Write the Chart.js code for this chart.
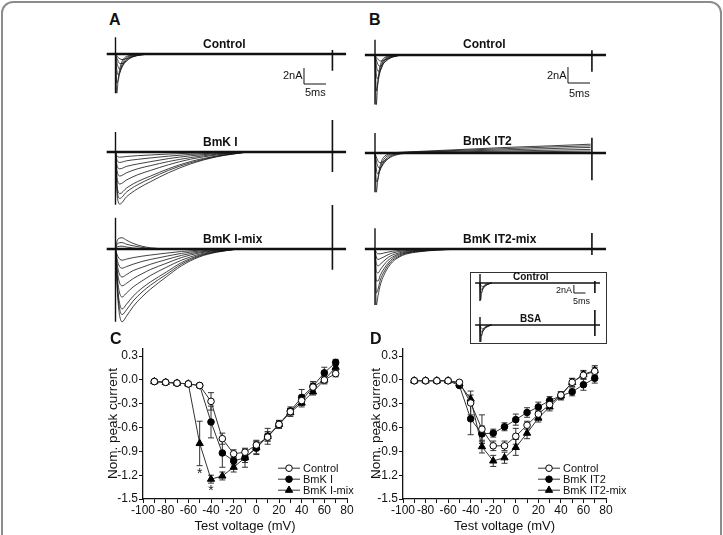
<!DOCTYPE html>
<html><head><meta charset="utf-8">
<script src="https://cdn.jsdelivr.net/npm/chart.js@4.4.1/dist/chart.umd.min.js"></script>
<style>
html,body{margin:0;padding:0;background:#fff;}
body{width:723px;height:535px;position:relative;overflow:hidden;font-family:"Liberation Sans",Arial,sans-serif;}
.frame{position:absolute;left:1px;top:1px;width:721px;height:580px;border:2px solid #8c8c8c;border-radius:12px;box-sizing:border-box;}
canvas{position:absolute;}
.t{position:absolute;white-space:nowrap;color:#111;line-height:1;transform:translateY(-50%);}
.lbl{font-weight:bold;font-size:12px;}
.letter{font-weight:bold;font-size:16px;}
.sb{font-size:11px;}
.sbs{font-size:9px;}
.ilbl{font-weight:bold;font-size:10px;}
.inset{position:absolute;left:470px;top:272px;width:137px;height:72px;border:1.5px solid #333;box-sizing:border-box;background:#fff;}
</style></head>
<body>
<div class="frame"></div>

<script>
// ================= DATA: I-V curves (panels C and D) =================
const voltages = [-90,-80,-70,-60,-50,-40,-30,-20,-10,0,10,20,30,40,50,60,70];
const xTicks = [-100,-90,-80,-70,-60,-50,-40,-30,-20,-10,0,10,20,30,40,50,60,70,80];
const yTicks = [-1.5,-1.2,-0.9,-0.6,-0.3,0.0,0.3];

const labelsC = ['Control','BmK I','BmK I-mix'];
const cControl    = [-0.02,-0.03,-0.04,-0.05,-0.07,-0.27,-0.74,-0.93,-0.91,-0.82,-0.72,-0.56,-0.40,-0.26,-0.09,0.00,0.08];
const cControlErr = [0.01,0.01,0.01,0.01,0.02,0.11,0.07,0.05,0.04,0.06,0.05,0.04,0.04,0.05,0.05,0.04,0.04];
const cBmkI       = [-0.02,-0.03,-0.04,-0.05,-0.07,-0.53,-0.92,-1.02,-0.98,-0.86,-0.71,-0.56,-0.39,-0.22,-0.08,0.09,0.22];
const cBmkIErr    = [0.01,0.01,0.01,0.01,0.02,0.20,0.18,0.05,0.06,0.08,0.06,0.05,0.05,0.10,0.06,0.07,0.04];
const cBmkImix    = [-0.02,-0.03,-0.04,-0.05,-0.80,-1.25,-1.21,-1.10,-0.98,-0.85,-0.71,-0.56,-0.41,-0.29,-0.15,0.00,0.16];
const cBmkImixErr = [0.01,0.01,0.01,0.01,0.28,0.05,0.05,0.06,0.12,0.08,0.10,0.05,0.05,0.05,0.04,0.05,0.04];
const cAsterisks  = [{x:-50,y:-1.15},{x:-40,y:-1.36}];

const labelsD = ['Control','BmK IT2','BmK IT2-mix'];
const dControl    = [-0.01,-0.01,-0.01,-0.01,-0.03,-0.29,-0.62,-0.83,-0.83,-0.71,-0.57,-0.43,-0.31,-0.19,-0.03,0.06,0.11];
const dControlErr = [0.01,0.01,0.01,0.01,0.02,0.15,0.18,0.06,0.06,0.10,0.05,0.05,0.05,0.04,0.05,0.05,0.05];
const dIT2        = [-0.01,-0.01,-0.01,-0.01,-0.07,-0.49,-0.68,-0.67,-0.59,-0.50,-0.41,-0.34,-0.26,-0.20,-0.15,-0.06,0.02];
const dIT2Err     = [0.01,0.01,0.01,0.01,0.02,0.20,0.10,0.05,0.05,0.07,0.06,0.06,0.05,0.05,0.05,0.07,0.06];
const dIT2mix     = [-0.01,-0.01,-0.01,-0.01,-0.05,-0.24,-0.84,-1.02,-0.98,-0.85,-0.67,-0.48,-0.34,-0.20,-0.03,0.07,0.12];
const dIT2mixErr  = [0.01,0.01,0.01,0.01,0.02,0.05,0.08,0.07,0.07,0.10,0.07,0.05,0.05,0.05,0.05,0.05,0.06];

// ================= DATA: current traces (time in ms, current in nA) =================
const pulseEnd = 49.3;
const baseSpanA = [-2, 52.4];
const baseSpanB = [-2.3, 52.5];

const tACtl = [0, 0.3, 0.6, 1, 1.5, 2, 3, 4, 6, 8];
const aCtl1 = [0, -4.9, -3.2, -1.8, -0.9, -0.5, -0.2, -0.08, 0];
const aCtl2 = [0, -3.6, -3.3, -2.3, -1.3, -0.75, -0.3, -0.12, 0];
const aCtl3 = [0, -2.0, -2.6, -2.3, -1.6, -1.0, -0.45, -0.2, -0.05, 0];
const aCtl4 = [0, -1.0, -1.6, -1.9, -1.6, -1.2, -0.6, -0.3, -0.08, 0];
const aCtl5 = [0, -0.5, -0.9, -1.2, -1.2, -1.05, -0.65, -0.35, -0.1, 0];
const aCtl6 = [0, -0.2, -0.45, -0.6, -0.7, -0.65, -0.5, -0.3, -0.1, 0];
const aCtlArt = [2.1, -4.9, 0.5, -2.1];

const tAI = [0, 0.4, 1, 2.5, 5, 8, 12, 17, 23, 30];
const aI1 = [0, -5.5, -6.5, -5.6, -4.6, -3.7, -2.6, -1.5, -0.6, 0];
const aI2 = [0, -4.9, -5.8, -5.0, -4.1, -3.3, -2.3, -1.35, -0.55, 0];
const aI3 = [0, -4.4, -5.2, -4.5, -3.7, -3.0, -2.1, -1.2, -0.5, 0];
const aI4 = [0, -3.4, -4.0, -3.5, -2.85, -2.3, -1.6, -0.9, -0.37, 0];
const aI5 = [0, -2.5, -3.0, -2.6, -2.1, -1.7, -1.2, -0.7, -0.28, 0];
const aI6 = [0, -1.8, -2.1, -1.8, -1.5, -1.2, -0.83, -0.48, -0.2, 0];
const aI7 = [0, -1.1, -1.3, -1.1, -0.92, -0.74, -0.52, -0.3, -0.12, 0];
const aI8 = [0, -0.55, -0.65, -0.56, -0.46, -0.37, -0.26, -0.15, -0.06, 0];
const aIArt = [2.5, -6.6, 4.0, -2.5];

const tAM = [0, 0.5, 1.5, 2.5, 4, 6, 8, 11.5, 15, 19, 23, 28];
const aM1 = [0, -6.0, -9.1, -8.4, -7.2, -6.0, -5.0, -3.5, -2.1, -1.0, -0.4, 0];
const aM2 = [0, -5.4, -8.2, -7.6, -6.5, -5.4, -4.5, -3.2, -1.9, -0.9, -0.36, 0];
const aM3 = [0, -4.9, -7.5, -6.9, -5.9, -4.9, -4.1, -2.9, -1.7, -0.8, -0.33, 0];
const aM4 = [0, -4.0, -6.0, -5.5, -4.75, -4.0, -3.3, -2.3, -1.4, -0.66, -0.26, 0];
const aM5 = [0, -3.1, -4.6, -4.3, -3.7, -3.1, -2.55, -1.8, -1.07, -0.5, -0.2, 0];
const aM6 = [0, -2.3, -3.5, -3.2, -2.7, -2.3, -1.9, -1.33, -0.8, -0.38, -0.15, 0];
const aM7 = [0, -1.6, -2.4, -2.2, -1.9, -1.56, -1.3, -0.91, -0.55, -0.26, -0.1, 0];
const aM8 = [0, -0.9, -1.4, -1.26, -1.08, -0.9, -0.75, -0.52, -0.31, -0.15, 0];
const aMo1 = [0, 1.2, 1.4, 1.1, 0.7, 0.35, 0.15, 0];
const aMo2 = [0, 0.7, 0.8, 0.6, 0.4, 0.2, 0.05, 0];
const aMo3 = [0, 0.3, 0.35, 0.25, 0.12, 0.05, 0];
const aMArt = [3.9, -9.1, 5.5, -2.6];

const tBCtl = [0, 0.3, 0.6, 1, 1.5, 2, 3, 4, 6];
const bCtl1 = [0, -6.2, -3.5, -1.8, -0.8, -0.4, -0.15, -0.05, 0];
const bCtl2 = [0, -4.5, -3.8, -2.3, -1.2, -0.6, -0.25, -0.1, 0];
const bCtl3 = [0, -2.4, -3.0, -2.4, -1.5, -0.8, -0.35, -0.15, 0];
const bCtl4 = [0, -1.2, -2.0, -2.0, -1.6, -1.0, -0.45, -0.2, 0];
const bCtl5 = [0, -0.6, -1.1, -1.4, -1.3, -1.0, -0.55, -0.25, 0];
const bCtl6 = [0, -0.3, -0.5, -0.7, -0.75, -0.65, -0.45, -0.25, 0];
const bCtlArt = [1.9, -6.2, 0.6, -2.1];

const tBI = [0, 0.3, 0.6, 1, 1.5, 2, 3, 4, 6, 10, 20, 30, 40, 49];
const bI1 = [0, -4.9, -3.5, -2.0, -1.0, -0.5, -0.15, 0, 0.1, 0.2, 0.45, 0.7, 0.9, 1.1];
const bI2 = [0, -3.6, -3.4, -2.4, -1.4, -0.8, -0.3, -0.1, 0.05, 0.15, 0.35, 0.55, 0.75, 0.9];
const bI3 = [0, -2.0, -2.6, -2.3, -1.7, -1.1, -0.5, -0.2, 0, 0.1, 0.25, 0.4, 0.55, 0.7];
const bI4 = [0, -1.0, -1.6, -1.9, -1.7, -1.3, -0.7, -0.3, -0.05, 0.05, 0.15, 0.25, 0.35, 0.45];
const bI5 = [0, -0.5, -0.9, -1.2, -1.2, -1.05, -0.7, -0.4, -0.1, 0, 0.05, 0.12, 0.18, 0.25];
const bIArt = [2.5, -4.9, 1.9, -3.4];

const tBM = [0, 0.3, 0.7, 1.2, 2, 3, 4, 5.5, 7, 10, 14, 20];
const bM1 = [0, -7.0, -5.8, -4.5, -3.3, -2.3, -1.6, -1.0, -0.65, -0.35, -0.15, 0];
const bM2 = [0, -5.5, -5.0, -3.9, -2.9, -2.0, -1.4, -0.9, -0.55, -0.3, -0.12, 0];
const bM3 = [0, -4.0, -4.0, -3.3, -2.5, -1.75, -1.2, -0.75, -0.48, -0.25, -0.1, 0];
const bM4 = [0, -2.8, -3.0, -2.6, -2.0, -1.4, -1.0, -0.62, -0.4, -0.2, -0.08, 0];
const bM5 = [0, -1.8, -2.1, -1.9, -1.5, -1.05, -0.75, -0.48, -0.3, -0.15, -0.06, 0];
const bM6 = [0, -1.0, -1.3, -1.2, -1.0, -0.7, -0.5, -0.32, -0.2, -0.1, 0];
const bM7 = [0, -0.4, -0.6, -0.6, -0.5, -0.38, -0.28, -0.18, -0.1, -0.05, 0];
const bMArt = [2.6, -7.0, 2.0, -0.75];

const tIn = [0, 0.3, 0.7, 1.2, 2, 3, 5];
const inC1 = [0, -4.2, -2.5, -1.2, -0.5, -0.2, 0];
const inC2 = [0, -2.5, -2.4, -1.6, -0.8, -0.35, 0];
const inC3 = [0, -1.2, -1.6, -1.4, -0.9, -0.45, 0];
const inC4 = [0, -0.5, -0.8, -0.9, -0.7, -0.4, 0];
const inCArt = [2.5, -4.5, 0.5, -2.5];
const inB1 = [0, -4.5, -2.7, -1.3, -0.55, -0.2, 0];
const inB2 = [0, -2.8, -2.6, -1.7, -0.85, -0.35, 0];
const inB3 = [0, -1.3, -1.7, -1.5, -1.0, -0.5, 0];
const inB4 = [0, -0.5, -0.85, -0.95, -0.75, -0.4, 0];
const inBArt = [2.0, -4.5, 3.75, -2.75];
const inBaseSpan = [-2.1, 51.5];

// ================= rendering =================
const FONT = '"Liberation Sans", Arial, sans-serif';
Chart.defaults.font.family = FONT;
Chart.defaults.color = '#111';

function addText(txt, cls, left, cy) {
  const d = document.createElement('div');
  d.className = 't ' + cls;
  d.textContent = txt;
  d.style.left = left + 'px';
  d.style.top = cy + 'px';
  document.body.appendChild(d);
}
function addCanvas(left, top, w, h) {
  const c = document.createElement('canvas');
  c.width = w; c.height = h;
  c.style.left = left + 'px'; c.style.top = top + 'px';
  c.style.width = w + 'px'; c.style.height = h + 'px';
  document.body.appendChild(c);
  return c;
}

// ---- plugins ----
const scaleBarPlugin = {
  id: 'scaleBar',
  afterDraw(chart, args, opts) {
    if (!opts || opts.t === undefined) return;
    const xs = chart.scales.x, ys = chart.scales.y, ctx = chart.ctx;
    const x0 = xs.getPixelForValue(opts.t), x1 = xs.getPixelForValue(opts.t + 5);
    const y0 = ys.getPixelForValue(opts.top), y1 = ys.getPixelForValue(opts.top - 2);
    ctx.save();
    ctx.strokeStyle = '#111'; ctx.lineWidth = 1;
    ctx.beginPath();
    ctx.moveTo(x0, y0); ctx.lineTo(x0, y1); ctx.lineTo(x1, y1);
    ctx.stroke();
    ctx.restore();
  }
};

const errorBarPlugin = {
  id: 'errBars',
  beforeDatasetsDraw(chart) {
    const ctx = chart.ctx, ys = chart.scales.y;
    ctx.save();
    ctx.strokeStyle = '#333'; ctx.lineWidth = 1;
    chart.data.datasets.forEach((ds, i) => {
      const meta = chart.getDatasetMeta(i);
      ds.err.forEach((e, j) => {
        if (e < 0.015) return;
        const pt = meta.data[j];
        const v = ds.data[j].y;
        const yt = ys.getPixelForValue(v + e), yb = ys.getPixelForValue(v - e);
        ctx.beginPath();
        ctx.moveTo(pt.x, yt); ctx.lineTo(pt.x, yb);
        ctx.moveTo(pt.x - 3, yt); ctx.lineTo(pt.x + 3, yt);
        ctx.moveTo(pt.x - 3, yb); ctx.lineTo(pt.x + 3, yb);
        ctx.stroke();
      });
    });
    ctx.restore();
  },
  afterDraw(chart, args, opts) {
    const ctx = chart.ctx, ca = chart.chartArea;
    // legend
    const x0 = ca.left + 135, y0 = ca.top + 120;
    ctx.save();
    chart.data.datasets.forEach((ds, i) => {
      const y = y0 + i * 11;
      ctx.strokeStyle = '#333'; ctx.lineWidth = 1;
      ctx.beginPath(); ctx.moveTo(x0, y); ctx.lineTo(x0 + 22, y); ctx.stroke();
      ctx.fillStyle = ds.pointBackgroundColor; ctx.strokeStyle = '#000';
      Chart.helpers.drawPoint(ctx, {pointStyle: ds.pointStyle, radius: ds.pointRadius, rotation: 0, borderWidth: 1}, x0 + 11, y);
      ctx.fillStyle = '#111';
      ctx.font = '11px ' + FONT;
      ctx.textBaseline = 'middle'; ctx.textAlign = 'left';
      ctx.fillText(ds.label, x0 + 25, y + 0.5);
    });
    // asterisks
    if (opts && opts.stars) {
      ctx.font = '14px ' + FONT; ctx.textAlign = 'center'; ctx.textBaseline = 'middle';
      ctx.fillStyle = '#222';
      opts.stars.forEach(s => {
        ctx.fillText('*', chart.scales.x.getPixelForValue(s.x), chart.scales.y.getPixelForValue(s.y) + 3);
      });
    }
    ctx.restore();
  }
};

// ---- I-V chart ----
function ivChart(left, yAxisW, areaRight, series, errs, labels, stars) {
  const w = 275;
  const c = addCanvas(left, 340, w, 195);
  const styles = [
    {ps: 'circle', bg: '#ffffff', r: 3.3},
    {ps: 'circle', bg: '#000000', r: 3.3},
    {ps: 'triangle', bg: '#000000', r: 4.2}
  ];
  const datasets = series.map((s, i) => ({
    label: labels[i],
    data: voltages.map((v, j) => ({x: v, y: s[j]})),
    err: errs[i],
    borderColor: '#333', borderWidth: 1,
    pointStyle: styles[i].ps, pointRadius: styles[i].r,
    pointBackgroundColor: styles[i].bg, pointBorderColor: '#000', pointBorderWidth: 1,
    tension: 0, fill: false
  }));
  new Chart(c, {
    type: 'line',
    data: {datasets},
    options: {
      responsive: false, animation: false, devicePixelRatio: 1, events: [],
      layout: {padding: {top: 7, right: left + w - areaRight, left: 0, bottom: 0}},
      plugins: {legend: {display: false}, tooltip: {enabled: false}, errBars: {stars}},
      scales: {
        x: {
          type: 'linear', min: -100, max: 80,
          afterBuildTicks: ax => { ax.ticks = xTicks.map(v => ({value: v})); },
          afterFit: s => { s.height = 36; },
          grid: {drawOnChartArea: false, drawTicks: true, tickLength: 4, color: '#111', lineWidth: 1},
          border: {display: true, color: '#111', width: 1.3},
          ticks: {callback: v => (v % 20 === 0 ? String(v) : ''), font: {size: 12}, color: '#111', padding: 0, maxRotation: 0, autoSkip: false},
          title: {display: true, text: 'Test voltage (mV)', font: {size: 13}, color: '#111', padding: {top: 0, bottom: 1}}
        },
        y: {
          type: 'linear', min: -1.5, max: 0.4,
          afterBuildTicks: ax => { ax.ticks = yTicks.map(v => ({value: v})); },
          afterFit: s => { s.width = yAxisW; },
          grid: {drawOnChartArea: false, drawTicks: true, tickLength: 4, color: '#111', lineWidth: 1},
          border: {display: true, color: '#111', width: 1.3},
          ticks: {callback: v => v.toFixed(1), font: {size: 12}, color: '#111', padding: 1},
          title: {display: true, text: 'Nom. peak current', font: {size: 13.5}, color: '#111', padding: {top: 0, bottom: 0}}
        }
      }
    },
    plugins: [errorBarPlugin]
  });
}

// ---- trace chart ----
function traceChart(cfg) {
  const c = addCanvas(cfg.left, cfg.top, cfg.w, cfg.h);
  const xmin = (cfg.left - cfg.t0px) / cfg.pxMs, xmax = (cfg.left + cfg.w - cfg.t0px) / cfg.pxMs;
  const ymax = (cfg.base - cfg.top) / cfg.pxNA, ymin = -(cfg.top + cfg.h - cfg.base) / cfg.pxNA;
  const ds = [];
  ds.push({data: [{x: cfg.span[0], y: 0}, {x: cfg.span[1], y: 0}], borderColor: '#111', borderWidth: cfg.baseW || 2.4, pointRadius: 0, tension: 0});
  cfg.traces.forEach(tr => {
    ds.push({data: tr.v.map((v, k) => ({x: tr.t[k], y: v})), borderColor: '#111', borderWidth: cfg.lw || 0.8,
      pointRadius: 0, cubicInterpolationMode: 'monotone', fill: false});
  });
  const a = cfg.art;
  ds.push({data: [{x: 0, y: a[0]}, {x: 0, y: a[1]}], borderColor: '#111', borderWidth: 1.4, pointRadius: 0, tension: 0});
  ds.push({data: [{x: pulseEnd, y: a[2]}, {x: pulseEnd, y: a[3]}], borderColor: '#111', borderWidth: 1.6, pointRadius: 0, tension: 0});
  new Chart(c, {
    type: 'line',
    data: {datasets: ds},
    options: {
      responsive: false, animation: false, devicePixelRatio: 1, events: [],
      layout: {padding: 0},
      plugins: {legend: {display: false}, tooltip: {enabled: false}, scaleBar: cfg.sb || {}},
      scales: {
        x: {type: 'linear', display: false, min: xmin, max: xmax},
        y: {type: 'linear', display: false, min: ymin, max: ymax}
      }
    },
    plugins: [scaleBarPlugin]
  });
}
const tr = (t, list) => list.map(v => ({t, v}));

// Panel A
traceChart({left: 104, top: 28, w: 248, h: 82, t0px: 115.5, base: 54, pxMs: 4.4, pxNA: 8, span: baseSpanA,
  traces: tr(tACtl, [aCtl1, aCtl2, aCtl3, aCtl4, aCtl5, aCtl6]), art: aCtlArt, sb: {t: 42.84, top: -1.75}});
traceChart({left: 104, top: 112, w: 248, h: 100, t0px: 115.5, base: 152, pxMs: 4.4, pxNA: 8, span: baseSpanA,
  traces: tr(tAI, [aI1, aI2, aI3, aI4, aI5, aI6, aI7, aI8]), art: aIArt});
traceChart({left: 104, top: 200, w: 248, h: 130, t0px: 115.5, base: 249, pxMs: 4.4, pxNA: 8, span: baseSpanA,
  traces: tr(tAM, [aM1, aM2, aM3, aM4, aM5, aM6, aM7, aM8, aMo1, aMo2, aMo3]), art: aMArt});
// Panel B
traceChart({left: 360, top: 28, w: 252, h: 82, t0px: 375, base: 55, pxMs: 4.4, pxNA: 8, span: baseSpanB,
  traces: tr(tBCtl, [bCtl1, bCtl2, bCtl3, bCtl4, bCtl5, bCtl6]), art: bCtlArt, sb: {t: 43.86, top: -1.5}});
traceChart({left: 360, top: 112, w: 252, h: 90, t0px: 375, base: 153, pxMs: 4.4, pxNA: 8, span: baseSpanB,
  traces: tr(tBI, [bI1, bI2, bI3, bI4, bI5]), art: bIArt});
traceChart({left: 360, top: 205, w: 252, h: 110, t0px: 375, base: 249, pxMs: 4.4, pxNA: 8, span: baseSpanB,
  traces: tr(tBM, [bM1, bM2, bM3, bM4, bM5, bM6, bM7]), art: bMArt});

// Inset
const inset = document.createElement('div'); inset.className = 'inset'; document.body.appendChild(inset);
traceChart({left: 472, top: 274, w: 133, h: 32, t0px: 480, base: 283, pxMs: 2.33, pxNA: 4, span: inBaseSpan, baseW: 1.6, lw: 0.7,
  traces: tr(tIn, [inC1, inC2, inC3, inC4]), art: inCArt, sb: {t: 40.3, top: -0.5}});
traceChart({left: 472, top: 308, w: 133, h: 34, t0px: 480, base: 325, pxMs: 2.33, pxNA: 4, span: inBaseSpan, baseW: 1.6, lw: 0.7,
  traces: tr(tIn, [inB1, inB2, inB3, inB4]), art: inBArt});

// Panels C and D
ivChart(105, 38, 347, [cControl, cBmkI, cBmkImix], [cControlErr, cBmkIErr, cBmkImixErr], labelsC, cAsterisks);
ivChart(368, 35, 606, [dControl, dIT2, dIT2mix], [dControlErr, dIT2Err, dIT2mixErr], labelsD, null);

// Text labels
addText('A', 'letter', 109, 20);
addText('B', 'letter', 369, 20);
addText('C', 'letter', 110, 339);
addText('D', 'letter', 370, 339);
addText('Control', 'lbl', 203, 44);
addText('BmK I', 'lbl', 203, 142);
addText('BmK I-mix', 'lbl', 203, 239);
addText('Control', 'lbl', 463, 44);
addText('BmK IT2', 'lbl', 463, 141);
addText('BmK IT2-mix', 'lbl', 463, 239);
addText('2nA', 'sb', 283, 75);
addText('5ms', 'sb', 305, 92);
addText('2nA', 'sb', 547, 75);
addText('5ms', 'sb', 569, 93);
addText('Control', 'ilbl', 513, 277);
addText('BSA', 'ilbl', 520, 319);
addText('2nA', 'sbs', 556, 290);
addText('5ms', 'sbs', 573, 301);
</script>
</body></html>
